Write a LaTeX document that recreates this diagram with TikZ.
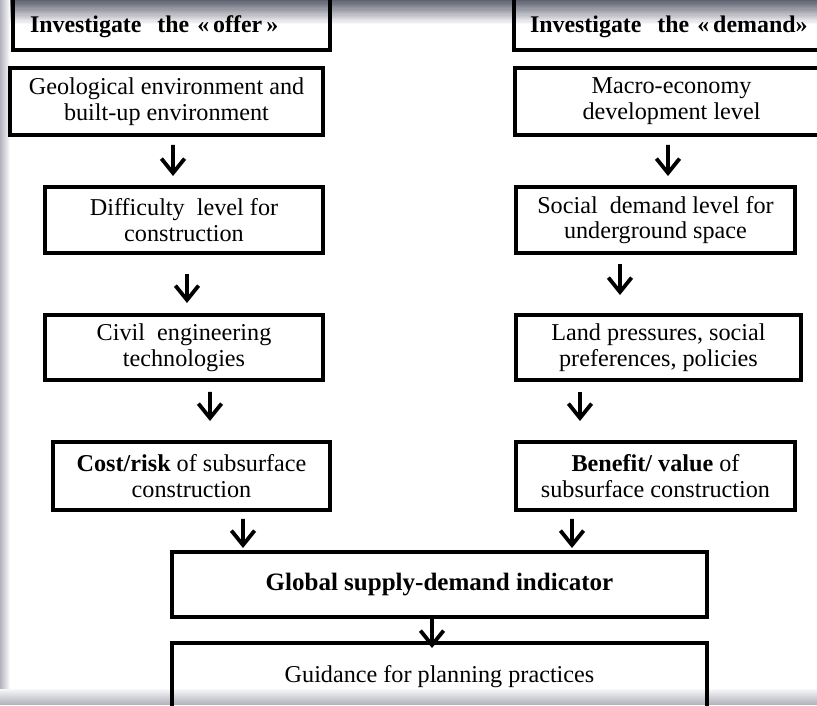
\documentclass[tikz,border=0pt]{standalone}
\usepackage{fontspec}
\setmainfont{Liberation Serif}
\usetikzlibrary{arrows.meta,calc}
\definecolor{frametop}{RGB}{95,98,112}
\definecolor{frameside}{RGB}{178,179,190}
\newcommand{\pxu}{0.025cm}

\begin{document}
\begin{tikzpicture}[x=\pxu,y=-\pxu,
    box/.style={draw,line width=2.8pt,align=center,font=\fontsize{17.2}{18.3}\selectfont},
    head/.style={box,align=left,inner xsep=17*\pxu,text height=19pt,font=\fontsize{17}{19}\selectfont\bfseries},
    arr/.style={-{Straight Barb[length=3.6mm,width=5.8mm]},line width=2.7pt}]
      \useasboundingbox (0,0) rectangle (817,705);
      \clip (0,0) rectangle (817,705);
      \foreach \i [evaluate=\i as \p using int(100-5*\i)] in {0,...,19}
        \fill[frametop!\p!white] (0,\i*1.2) rectangle (817,\i*1.2+1.3);
      \foreach \i [evaluate=\i as \p using int(100-10*\i)] in {0,...,9}
        \fill[frameside!\p!white] (\i,0) rectangle (\i+1.1,705);
      \foreach \i [evaluate=\i as \p using int(100-6*\i)] in {0,...,15}
        \fill[frameside!\p!white] (0,705-\i) rectangle (817,704-\i);

      \node[head,text width=283*\pxu,minimum height=56*\pxu] (offer) at (171.5,22) {Investigate\ \ the «\,offer\,»};
      \node[box,minimum width=313*\pxu,minimum height=67*\pxu] (geo) at (166.5,101.5) {Geological environment and\\built-up environment};
      \node[box,minimum width=278*\pxu,minimum height=66*\pxu] (diff) at (184,220) {Difficulty\ \ level for\\construction};
      \node[box,minimum width=278*\pxu,minimum height=65*\pxu] (civil) at (184,347.5) {Civil\ \ engineering\\technologies};
      \node[box,minimum width=277*\pxu,minimum height=68*\pxu] (cost) at (191.5,476) {\textbf{Cost/risk} of subsurface\\construction};

      \node[head,inner xsep=16*\pxu,text width=294*\pxu,minimum height=56*\pxu] (demand) at (677,22) {Investigate\ \ the «\,demand»};
      \node[box,minimum width=313*\pxu,minimum height=67*\pxu] (macro) at (671.5,101.5) {Macro-economy\\development level};
      \node[box,minimum width=279*\pxu,minimum height=66*\pxu] (social) at (655.5,220) {Social\ \ demand level for\\underground space};
      \node[box,minimum width=285*\pxu,minimum height=65*\pxu] (land) at (658.5,347.5) {Land pressures, social\\preferences, policies};
      \node[box,minimum width=279*\pxu,minimum height=68*\pxu] (benefit) at (655.5,476) {\textbf{Benefit/ value} of\\subsurface construction};

      \node[box,font=\fontsize{17.8}{19}\selectfont\bfseries,minimum width=535*\pxu,minimum height=65*\pxu] (global) at (439.5,584.5) {Global supply-demand indicator};
      \node[box,minimum width=535*\pxu,minimum height=67*\pxu] (guide) at (439.5,676.5) {Guidance for planning practices};

      \draw[arr] ($(geo.south)+(6.5,8)$) -- ($(diff.north)+(-11,-9)$);
      \draw[arr] ($(diff.south)+(3,19)$) -- ($(civil.north)+(3,-10)$);
      \draw[arr] ($(civil.south)+(26,10)$) -- ($(cost.north)+(18.5,-19)$);
      \draw[arr] ($(cost.south)+(51.5,7)$) -- ($(global.north)+(-196.5,-2)$);
      \draw[arr] ($(macro.south)+(-3.5,8)$) -- ($(social.north)+(12.5,-9)$);
      \draw[arr] ($(social.south)+(-35.5,9)$) -- ($(land.north)+(-38.5,-18)$);
      \draw[arr] ($(land.south)+(-78.5,10)$) -- ($(benefit.north)+(-75.5,-19)$);
      \draw[arr] ($(benefit.south)+(-83.5,7)$) -- ($(global.north)+(132.5,-2)$);
      \draw[arr] ($(global.south)+(-7.5,0)$) -- ($(guide.north)+(-7.5,7)$);
    \end{tikzpicture}
\end{document}
